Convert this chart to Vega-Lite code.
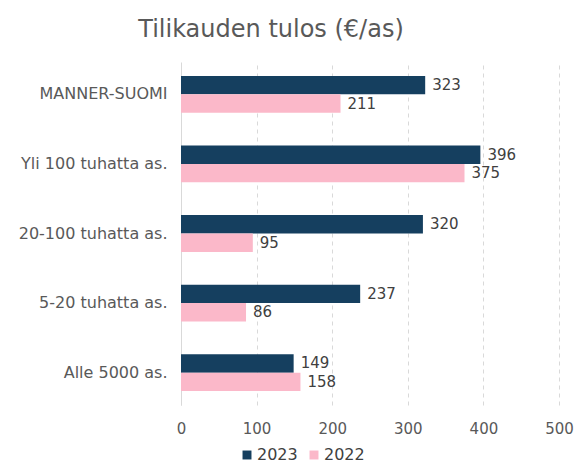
{
  "$schema": "https://vega.github.io/schema/vega-lite/v6.json",
  "autosize": "none",
  "width": 378,
  "height": 343,
  "padding": {"left": 181, "top": 62, "right": 16, "bottom": 60},
  "background": "white",
  "title": {
    "text": "Tilikauden tulos (€/as)",
    "fontSize": 24,
    "font": "DejaVu Sans",
    "fontWeight": "normal",
    "color": "#595959",
    "anchor": "middle",
    "dx": -99,
    "offset": 20
  },
  "config": {
    "view": {"stroke": null},
    "font": "DejaVu Sans"
  },
  "data": {
    "values": [
      {"alue": "MANNER-SUOMI", "vuosi": "2023", "arvo": 323},
      {"alue": "MANNER-SUOMI", "vuosi": "2022", "arvo": 211},
      {"alue": "Yli 100 tuhatta as.", "vuosi": "2023", "arvo": 396},
      {"alue": "Yli 100 tuhatta as.", "vuosi": "2022", "arvo": 375},
      {"alue": "20-100 tuhatta as.", "vuosi": "2023", "arvo": 320},
      {"alue": "20-100 tuhatta as.", "vuosi": "2022", "arvo": 95},
      {"alue": "5-20 tuhatta as.", "vuosi": "2023", "arvo": 237},
      {"alue": "5-20 tuhatta as.", "vuosi": "2022", "arvo": 86},
      {"alue": "Alle 5000 as.", "vuosi": "2023", "arvo": 149},
      {"alue": "Alle 5000 as.", "vuosi": "2022", "arvo": 158}
    ]
  },
  "encoding": {
    "y": {
      "field": "alue",
      "type": "nominal",
      "sort": null,
      "scale": {"paddingInner": 0.47, "paddingOuter": 0.2},
      "axis": {
        "title": null,
        "ticks": false,
        "domain": true,
        "domainColor": "#d9d9d9",
        "labelFontSize": 16,
        "labelColor": "#595959",
        "labelPadding": 14,
        "grid": false
      }
    },
    "yOffset": {"field": "vuosi", "type": "nominal", "sort": ["2023", "2022"], "scale": {"domain": ["2023", "2022"]}},
    "x": {
      "field": "arvo",
      "type": "quantitative",
      "scale": {"domain": [0, 500]},
      "axis": {
        "title": null,
        "values": [0, 100, 200, 300, 400, 500],
        "domain": false,
        "ticks": false,
        "grid": true,
        "gridDash": [4, 4],
        "gridColor": "#d9d9d9",
        "labelFontSize": 15,
        "labelColor": "#595959",
        "labelPadding": 16,
        "labelFlush": false
      }
    }
  },
  "layer": [
    {
      "mark": {"type": "bar"},
      "encoding": {
        "color": {
          "field": "vuosi",
          "type": "nominal",
          "scale": {"domain": ["2023", "2022"], "range": ["#153f5f", "#fbb8c9"]},
          "legend": {
            "title": null,
            "orient": "none",
            "direction": "horizontal",
            "legendX": 58,
            "legendY": 385,
            "symbolType": "square",
            "symbolSize": 80,
            "labelFontSize": 16,
            "labelColor": "#404040",
            "columnPadding": 8,
            "labelOffset": 2
          }
        }
      }
    },
    {
      "mark": {"type": "text", "align": "left", "dx": 7, "fontSize": 15, "color": "#404040"},
      "encoding": {
        "text": {"field": "arvo", "type": "quantitative"}
      }
    }
  ]
}
